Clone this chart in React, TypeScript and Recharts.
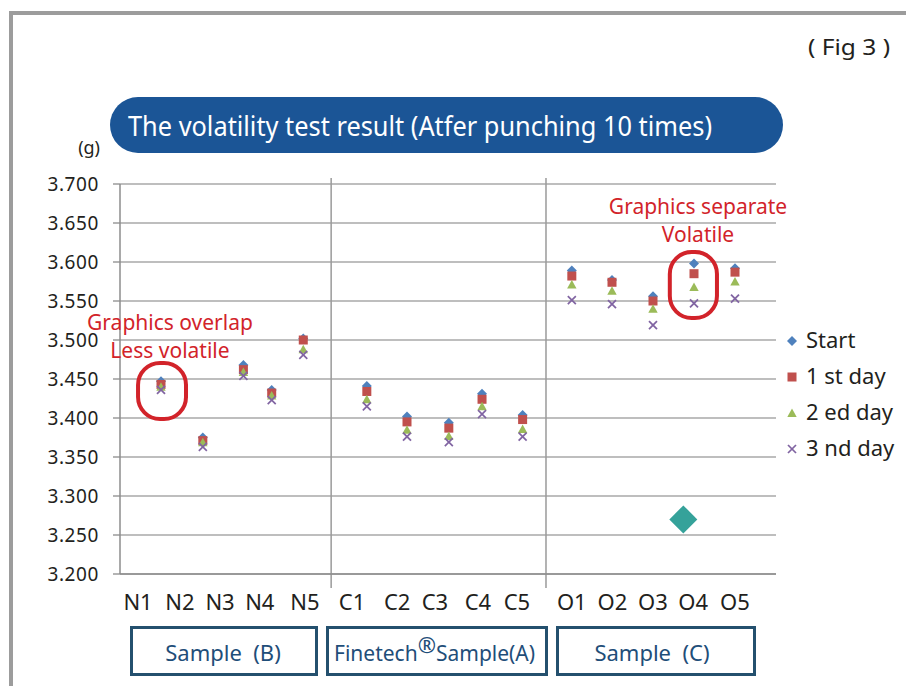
import React from 'react';
import {
  ScatterChart,
  Scatter,
  XAxis,
  YAxis,
  CartesianGrid,
  Legend,
  ReferenceLine,
  ReferenceArea,
} from 'recharts';

// ---------- data ----------
const categories = ['N1', 'N2', 'N3', 'N4', 'N5', 'C1', 'C2', 'C3', 'C4', 'C5', 'O1', 'O2', 'O3', 'O4', 'O5'];
// x value (axis units 0..16) of each sample's markers
const pointX = [1, 2.02, 3.01, 3.7, 4.47, 6.02, 7, 8.02, 8.83, 9.82, 11.02, 12, 13, 14, 15];
// x value (axis units) of each category label
const labelX = [0.44, 1.46, 2.44, 3.41, 4.51, 5.66, 6.76, 7.68, 8.73, 9.68, 11.02, 12.01, 13.0, 13.98, 15.0];

const startValues = [3.447, 3.375, 3.468, 3.436, 3.502, 3.441, 3.402, 3.394, 3.431, 3.404, 3.589, 3.577, 3.556, 3.598, 3.592];
const day1Values = [3.443, 3.371, 3.462, 3.432, 3.5, 3.434, 3.395, 3.387, 3.424, 3.398, 3.582, 3.574, 3.55, 3.585, 3.587];
const day2Values = [3.44, 3.369, 3.459, 3.429, 3.488, 3.424, 3.385, 3.377, 3.415, 3.386, 3.571, 3.563, 3.54, 3.568, 3.575];
const day3Values = [3.436, 3.363, 3.454, 3.423, 3.481, 3.415, 3.376, 3.369, 3.405, 3.376, 3.551, 3.546, 3.519, 3.547, 3.553];

const seriesNames = ['Start', '1 st day', '2 ed day', '3 nd day'];
const seriesColors = ['#4F81BD', '#C0504D', '#9BBB59', '#8064A2'];

const strayPoint = [{ x: 13.74, y: 3.27 }];

const yTicks = [3.2, 3.25, 3.3, 3.35, 3.4, 3.45, 3.5, 3.55, 3.6, 3.65, 3.7];
const xTicks = [0, 2, 4, 6, 8, 10, 12, 14, 16];
const separatorX = [5.15, 10.39];

const ringOverlap = { x1: 0.44, x2: 1.61, y1: 3.3987, y2: 3.4705 };
const ringSeparate = { x1: 13.41, x2: 14.56, y1: 3.5282, y2: 3.6128 };

const groupNames = ['Sample  (B)', 'Finetech', '®', 'Sample(A)', 'Sample  (C)'];

// ---------- helpers ----------
const FONT = '"Noto Sans", "DejaVu Sans", sans-serif';
const TEXT = '#231f20';

const toPoints = (vals: number[]) =>
  vals.map((v, i) => ({ x: pointX[i], y: v, name: categories[i] }));

const drawMarker = (kind: number, cx: number, cy: number, key?: any) => {
  const c = seriesColors[kind];
  if (kind === 0) {
    const s = 5;
    return (
      <polygon key={key} points={`${cx},${cy - s} ${cx + s},${cy} ${cx},${cy + s} ${cx - s},${cy}`} fill={c} />
    );
  }
  if (kind === 1) {
    return <rect key={key} x={cx - 4.5} y={cy - 4.5} width={9} height={9} fill={c} />;
  }
  if (kind === 2) {
    return (
      <polygon key={key} points={`${cx},${cy - 4.5} ${cx + 4.7},${cy + 4} ${cx - 4.7},${cy + 4}`} fill={c} />
    );
  }
  const d = 4;
  return (
    <g key={key} stroke={c} strokeWidth={1.7}>
      <line x1={cx - d} y1={cy - d} x2={cx + d} y2={cy + d} />
      <line x1={cx - d} y1={cy + d} x2={cx + d} y2={cy - d} />
    </g>
  );
};

const makeShape = (kind: number) => (props: any) => {
  const { cx, cy } = props;
  if (cx == null || cy == null) return <g />;
  return drawMarker(kind, cx, cy);
};

const TealDiamond = (props: any) => {
  const { cx, cy } = props;
  const s = 14;
  return <polygon points={`${cx},${cy - s} ${cx + s},${cy} ${cx},${cy + s} ${cx - s},${cy}`} fill="#35a29a" />;
};

const RingShape = (props: any) => {
  const { x, y, width, height } = props;
  return (
    <rect x={x} y={y} width={width} height={height} rx={22} ry={22} fill="none" stroke="#d2232a" strokeWidth={4} />
  );
};

const CategoryTick = (props: any) => {
  const { x, y, payload } = props;
  let idx = 0;
  let best = Infinity;
  labelX.forEach((lx, i) => {
    const d = Math.abs(lx - payload.value);
    if (d < best) {
      best = d;
      idx = i;
    }
  });
  return (
    <text x={x} y={y + 26} textAnchor="middle" fontSize={22} fill={TEXT} fontFamily={FONT}>
      {categories[idx]}
    </text>
  );
};

const renderLegend = (props: any) => {
  const items = (props.payload || [])
    .filter((p: any) => seriesNames.includes(p.value))
    .sort((a: any, b: any) => seriesNames.indexOf(a.value) - seriesNames.indexOf(b.value));
  return (
    <svg width={124} height={150} style={{ display: 'block', overflow: 'visible' }}>
      {items.map((it: any, i: number) => {
        const kind = seriesNames.indexOf(it.value);
        const base = 26 + i * 36;
        return (
          <g key={it.value}>
            {drawMarker(kind, 10, base - 7)}
            <text x={24} y={base} fontSize={22} fill={TEXT} fontFamily={FONT}>
              {it.value}
            </text>
          </g>
        );
      })}
    </svg>
  );
};

const seriesData = [startValues, day1Values, day2Values, day3Values].map(toPoints);
const catPoints = labelX.map((x) => ({ x, y: 3.2 }));

export default function App() {
  return (
    <div style={{ position: 'absolute', left: 0, top: 0, width: 906, height: 686, background: '#fff', overflow: 'hidden' }}>
      <svg width={906} height={686} style={{ position: 'absolute', left: 0, top: 0 }}>
        <path d="M 11 700 V 13 H 920" fill="none" stroke="#9c9c9c" strokeWidth={4} />
      </svg>
      <div style={{ position: 'absolute', left: 0, top: 0 }}>
        <ScatterChart width={906} height={686} margin={{ top: 184, right: 130, bottom: 72, left: 50 }}>
          <CartesianGrid vertical={false} stroke="#a8a8a8" strokeWidth={1.3} />
          <XAxis
            xAxisId={0}
            type="number"
            dataKey="x"
            domain={[0, 16]}
            ticks={xTicks}
            tick={false}
            tickSize={7}
            height={10}
            allowDataOverflow
            axisLine={{ stroke: '#8c8c8c', strokeWidth: 1.5 }}
            tickLine={{ stroke: '#8c8c8c', strokeWidth: 1.5 }}
          />
          <XAxis
            xAxisId="cat"
            type="number"
            dataKey="x"
            domain={[0, 16]}
            ticks={labelX}
            interval={0}
            tick={<CategoryTick />}
            tickSize={0}
            tickMargin={0}
            height={30}
            axisLine={false}
            tickLine={false}
            allowDataOverflow
          />
          <YAxis
            type="number"
            dataKey="y"
            domain={[3.2, 3.7]}
            ticks={yTicks}
            interval={0}
            width={70}
            tickSize={7}
            tickMargin={14}
            allowDataOverflow
            tickFormatter={(v: number) => v.toFixed(3)}
            tick={{ fontSize: 19, fill: TEXT, fontFamily: FONT, letterSpacing: 0.6 }}
            axisLine={{ stroke: '#8c8c8c', strokeWidth: 1.5 }}
            tickLine={{ stroke: '#8c8c8c', strokeWidth: 1.3 }}
          />
          {separatorX.map((sx) => (
            <ReferenceLine
              key={sx}
              segment={[
                { x: sx, y: 3.7077 },
                { x: sx, y: 3.182 },
              ]}
              stroke="#9a9a9a"
              strokeWidth={1.5}
              ifOverflow="visible"
            />
          ))}
          <ReferenceArea {...ringOverlap} ifOverflow="visible" shape={<RingShape />} />
          <ReferenceArea {...ringSeparate} ifOverflow="visible" shape={<RingShape />} />
          {seriesData.map((d, k) => (
            <Scatter
              key={seriesNames[k]}
              name={seriesNames[k]}
              data={d}
              fill={seriesColors[k]}
              shape={makeShape(k)}
              isAnimationActive={false}
            />
          ))}
          <Scatter name="stray" data={strayPoint} fill="#35a29a" shape={<TealDiamond />} legendType="none" isAnimationActive={false} />
          <Scatter
            name="labels"
            xAxisId="cat"
            data={catPoints}
            fill="none"
            shape={() => <g />}
            legendType="none"
            isAnimationActive={false}
          />
          <Legend
            layout="horizontal"
            verticalAlign="middle"
            align="center"
            content={renderLegend}
            wrapperStyle={{ position: 'absolute', left: 782, top: 322, width: 124, height: 150 }}
          />
        </ScatterChart>
      </div>
      <svg width={906} height={686} style={{ position: 'absolute', left: 0, top: 0, pointerEvents: 'none' }}>
        <text x={890} y={55} textAnchor="end" fontSize={21} fill={TEXT} fontFamily={FONT} textLength={82} lengthAdjust="spacingAndGlyphs">
          ( Fig 3 )
        </text>
        <rect x={110} y={97} width={673} height={56} rx={28} ry={28} fill="#1b5596" />
        <text x={128} y={136} fontSize={28} fill="#ffffff" fontFamily={FONT} textLength={584} lengthAdjust="spacingAndGlyphs">
          The volatility test result (Atfer punching 10 times)
        </text>
        <text x={100} y={154} textAnchor="end" fontSize={18} fill={TEXT} fontFamily={FONT}>
          (g)
        </text>
        <text x={170} y={330} textAnchor="middle" fontSize={21} fill="#d2232a" fontFamily={FONT}>
          Graphics overlap
        </text>
        <text x={170} y={358} textAnchor="middle" fontSize={21} fill="#d2232a" fontFamily={FONT}>
          Less volatile
        </text>
        <text x={698} y={214} textAnchor="middle" fontSize={21} fill="#d2232a" fontFamily={FONT}>
          Graphics separate
        </text>
        <text x={698} y={242} textAnchor="middle" fontSize={21} fill="#d2232a" fontFamily={FONT}>
          Volatile
        </text>
        <g fill="none" stroke="#24506e" strokeWidth={3}>
          <rect x={131.5} y={627.5} width={185} height={47} />
          <rect x={327.5} y={627.5} width={219} height={47} />
          <rect x={557.5} y={627.5} width={197} height={47} />
        </g>
        <g fontSize={22} fill="#1f4e79" fontFamily={FONT}>
          <text x={223} y={661} textAnchor="middle" style={{ whiteSpace: 'pre' }}>
            {groupNames[0]}
          </text>
          <text x={334} y={661} fontSize={21}>
            <tspan>{groupNames[1]}</tspan>
            <tspan dy={-8} fontSize={22}>{groupNames[2]}</tspan>
            <tspan dy={8}>{groupNames[3]}</tspan>
          </text>
          <text x={652} y={661} textAnchor="middle" style={{ whiteSpace: 'pre' }}>
            {groupNames[4]}
          </text>
        </g>
      </svg>
    </div>
  );
}
